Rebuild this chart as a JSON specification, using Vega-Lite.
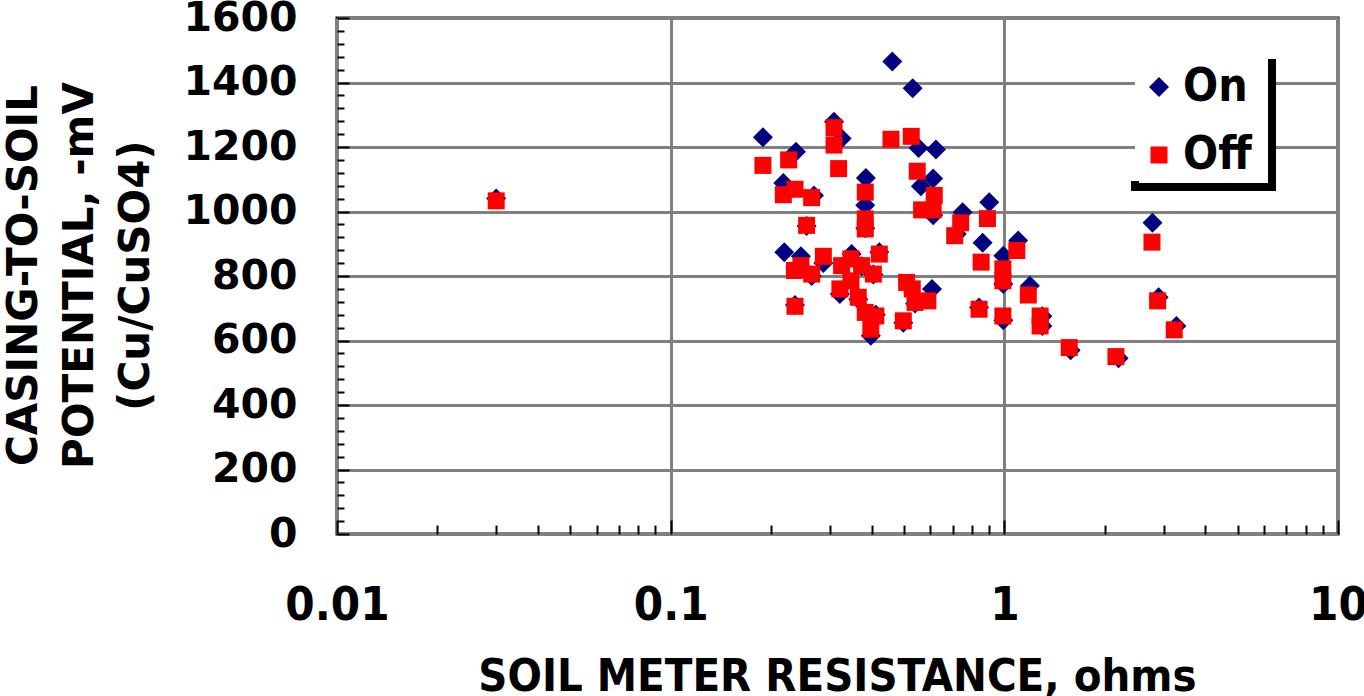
{
  "$schema": "https://vega.github.io/schema/vega-lite/v6.json",
  "width": 1001,
  "height": 516,
  "autosize": {"type": "none"},
  "padding": {"left": 337, "top": 18, "right": 26, "bottom": 162},
  "background": "white",
  "config": {
    "view": {"stroke": "black", "strokeWidth": 3},
    "axis": {"gridColor": "#808080", "gridWidth": 3, "gridOpacity": 1, "domain": false, "tickColor": "black", "tickWidth": 2},
    "legend": {"strokeWidth": 8, "strokeDash": [0, 141, 271, 300]}
  },
  "data": {"values": [
    {"r": 0.03, "mv": 1040, "series": "On"},
    {"r": 0.189, "mv": 1230, "series": "On"},
    {"r": 0.2176, "mv": 1088, "series": "On"},
    {"r": 0.219, "mv": 874, "series": "On"},
    {"r": 0.2374, "mv": 1185, "series": "On"},
    {"r": 0.2457, "mv": 861, "series": "On"},
    {"r": 0.2358, "mv": 710, "series": "On"},
    {"r": 0.2688, "mv": 1050, "series": "On"},
    {"r": 0.2555, "mv": 955, "series": "On"},
    {"r": 0.2868, "mv": 840, "series": "On"},
    {"r": 0.2646, "mv": 800, "series": "On"},
    {"r": 0.3087, "mv": 1278, "series": "On"},
    {"r": 0.3253, "mv": 1226, "series": "On"},
    {"r": 0.3215, "mv": 744, "series": "On"},
    {"r": 0.3486, "mv": 868, "series": "On"},
    {"r": 0.3735, "mv": 830, "series": "On"},
    {"r": 0.3847, "mv": 1104, "series": "On"},
    {"r": 0.383, "mv": 1019, "series": "On"},
    {"r": 0.383, "mv": 948, "series": "On"},
    {"r": 0.365, "mv": 728, "series": "On"},
    {"r": 0.398, "mv": 615, "series": "On"},
    {"r": 0.412, "mv": 680, "series": "On"},
    {"r": 0.405, "mv": 805, "series": "On"},
    {"r": 0.422, "mv": 874, "series": "On"},
    {"r": 0.4617, "mv": 1465, "series": "On"},
    {"r": 0.5313, "mv": 1382, "series": "On"},
    {"r": 0.5535, "mv": 1197, "series": "On"},
    {"r": 0.6237, "mv": 1192, "series": "On"},
    {"r": 0.612, "mv": 1102, "series": "On"},
    {"r": 0.5623, "mv": 1078, "series": "On"},
    {"r": 0.612, "mv": 988, "series": "On"},
    {"r": 0.607, "mv": 760, "series": "On"},
    {"r": 0.498, "mv": 655, "series": "On"},
    {"r": 0.54, "mv": 715, "series": "On"},
    {"r": 0.75, "mv": 998, "series": "On"},
    {"r": 0.72, "mv": 930, "series": "On"},
    {"r": 0.9013, "mv": 1029, "series": "On"},
    {"r": 0.861, "mv": 903, "series": "On"},
    {"r": 0.993, "mv": 863, "series": "On"},
    {"r": 0.993, "mv": 775, "series": "On"},
    {"r": 0.84, "mv": 702, "series": "On"},
    {"r": 0.993, "mv": 663, "series": "On"},
    {"r": 1.1, "mv": 910, "series": "On"},
    {"r": 1.193, "mv": 770, "series": "On"},
    {"r": 1.3, "mv": 675, "series": "On"},
    {"r": 1.3, "mv": 645, "series": "On"},
    {"r": 1.58, "mv": 570, "series": "On"},
    {"r": 2.2, "mv": 545, "series": "On"},
    {"r": 2.78, "mv": 965, "series": "On"},
    {"r": 2.9, "mv": 734, "series": "On"},
    {"r": 3.28, "mv": 645, "series": "On"},
    {"r": 0.03, "mv": 1033, "series": "Off"},
    {"r": 0.189, "mv": 1143, "series": "Off"},
    {"r": 0.2257, "mv": 1160, "series": "Off"},
    {"r": 0.2176, "mv": 1052, "series": "Off"},
    {"r": 0.2358, "mv": 1069, "series": "Off"},
    {"r": 0.2646, "mv": 1043, "series": "Off"},
    {"r": 0.2555, "mv": 957, "series": "Off"},
    {"r": 0.2348, "mv": 817, "series": "Off"},
    {"r": 0.2457, "mv": 832, "series": "Off"},
    {"r": 0.2646, "mv": 806, "series": "Off"},
    {"r": 0.2868, "mv": 861, "series": "Off"},
    {"r": 0.2358, "mv": 706, "series": "Off"},
    {"r": 0.3087, "mv": 1260, "series": "Off"},
    {"r": 0.3087, "mv": 1206, "series": "Off"},
    {"r": 0.3187, "mv": 1133, "series": "Off"},
    {"r": 0.3215, "mv": 760, "series": "Off"},
    {"r": 0.3253, "mv": 832, "series": "Off"},
    {"r": 0.347, "mv": 853, "series": "Off"},
    {"r": 0.347, "mv": 785, "series": "Off"},
    {"r": 0.3735, "mv": 832, "series": "Off"},
    {"r": 0.365, "mv": 734, "series": "Off"},
    {"r": 0.383, "mv": 1060, "series": "Off"},
    {"r": 0.383, "mv": 977, "series": "Off"},
    {"r": 0.383, "mv": 946, "series": "Off"},
    {"r": 0.405, "mv": 806, "series": "Off"},
    {"r": 0.422, "mv": 868, "series": "Off"},
    {"r": 0.383, "mv": 687, "series": "Off"},
    {"r": 0.412, "mv": 676, "series": "Off"},
    {"r": 0.398, "mv": 635, "series": "Off"},
    {"r": 0.4574, "mv": 1224, "series": "Off"},
    {"r": 0.526, "mv": 1233, "series": "Off"},
    {"r": 0.5483, "mv": 1125, "series": "Off"},
    {"r": 0.6166, "mv": 1050, "series": "Off"},
    {"r": 0.565, "mv": 1005, "series": "Off"},
    {"r": 0.612, "mv": 1005, "series": "Off"},
    {"r": 0.5095, "mv": 780, "series": "Off"},
    {"r": 0.5297, "mv": 760, "series": "Off"},
    {"r": 0.54, "mv": 718, "series": "Off"},
    {"r": 0.59, "mv": 723, "series": "Off"},
    {"r": 0.498, "mv": 661, "series": "Off"},
    {"r": 0.74, "mv": 965, "series": "Off"},
    {"r": 0.71, "mv": 925, "series": "Off"},
    {"r": 0.89, "mv": 978, "series": "Off"},
    {"r": 0.852, "mv": 843, "series": "Off"},
    {"r": 0.99, "mv": 822, "series": "Off"},
    {"r": 0.99, "mv": 785, "series": "Off"},
    {"r": 0.84, "mv": 697, "series": "Off"},
    {"r": 0.99, "mv": 676, "series": "Off"},
    {"r": 1.09, "mv": 879, "series": "Off"},
    {"r": 1.18, "mv": 741, "series": "Off"},
    {"r": 1.28, "mv": 676, "series": "Off"},
    {"r": 1.28, "mv": 645, "series": "Off"},
    {"r": 1.565, "mv": 578, "series": "Off"},
    {"r": 2.16, "mv": 550, "series": "Off"},
    {"r": 2.77, "mv": 905, "series": "Off"},
    {"r": 2.88, "mv": 723, "series": "Off"},
    {"r": 3.23, "mv": 633, "series": "Off"}
  ]},
  "layer": [
    {
      "mark": {"type": "point", "filled": true, "opacity": 1, "strokeWidth": 0},
      "encoding": {
        "x": {"field": "r", "type": "quantitative",
          "scale": {"type": "log", "domain": [0.01, 10], "nice": false},
          "axis": {"orient": "bottom", "values": [0.01, 0.1, 1, 10], "format": "~g", "grid": true,
            "ticks": true, "tickSize": -14,
            "labelFont": "DejaVu Sans Condensed", "labelFontWeight": "bold", "labelFontSize": 47,
            "labelColor": "black", "labelPadding": 62, "labelFlush": false,
            "title": "SOIL METER RESISTANCE, ohms",
            "titleFont": "DejaVu Sans Condensed", "titleFontWeight": "bold", "titleFontSize": 45,
            "titleColor": "black", "titleX": 500, "titleY": 156, "titleBaseline": "alphabetic", "titleAnchor": "middle"}},
        "y": {"field": "mv", "type": "quantitative",
          "scale": {"domain": [0, 1600], "nice": false},
          "axis": {"orient": "left", "values": [0, 200, 400, 600, 800, 1000, 1200, 1400, 1600], "format": "d", "grid": true,
            "ticks": true, "tickSize": -12,
            "labelFont": "DejaVu Sans", "labelFontWeight": "bold", "labelFontSize": 41,
            "labelColor": "black", "labelPadding": 52, "labelFlush": false,
            "title": ["CASING-TO-SOIL", "POTENTIAL, -mV", "(Cu/CuSO4)"],
            "titleFont": "DejaVu Sans", "titleFontWeight": "bold", "titleFontSize": 42,
            "titleColor": "black", "titleLineHeight": 56, "titleX": -334, "titleY": 257,
            "titleBaseline": "top", "titleAngle": -90, "titleAlign": "center"}},
        "color": {"field": "series", "type": "nominal",
          "scale": {"domain": ["On", "Off"], "range": ["#000080", "#FF0000"]},
          "legend": {"orient": "none", "legendX": 798, "legendY": 37,
            "title": " ", "titleOrient": "right", "titleFontSize": 10, "titlePadding": 11,
            "labelFont": "DejaVu Sans Condensed", "labelFontWeight": "bold", "labelFontSize": 46, "labelColor": "black",
            "labelOffset": 1, "rowPadding": 22, "padding": 9, "symbolOffset": -8,
            "fillColor": "white", "strokeColor": "black"}},
        "shape": {"field": "series", "type": "nominal",
          "scale": {"domain": ["On", "Off"], "range": ["diamond", "square"]}},
        "size": {"field": "series", "type": "nominal",
          "scale": {"domain": ["On", "Off"], "range": [400, 289]}}
      }
    },
    {
      "mark": {"type": "point", "opacity": 0},
      "encoding": {
        "x": {"field": "r", "type": "quantitative",
          "axis": {"orient": "bottom", "values": [0.02, 0.03, 0.04, 0.05, 0.06, 0.07, 0.08, 0.09, 0.2, 0.3, 0.4, 0.5, 0.6, 0.7, 0.8, 0.9, 2, 3, 4, 5, 6, 7, 8, 9],
            "grid": false, "labels": false, "ticks": true, "tickSize": -9, "title": null}},
        "y": {"field": "mv", "type": "quantitative",
          "axis": {"orient": "left", "values": [40, 80, 120, 160, 240, 280, 320, 360, 440, 480, 520, 560, 640, 680, 720, 760, 840, 880, 920, 960, 1040, 1080, 1120, 1160, 1240, 1280, 1320, 1360, 1440, 1480, 1520, 1560],
            "grid": false, "labels": false, "ticks": true, "tickSize": -7, "title": null}}
      }
    }
  ],
  "resolve": {"axis": {"x": "independent", "y": "independent"}}
}
